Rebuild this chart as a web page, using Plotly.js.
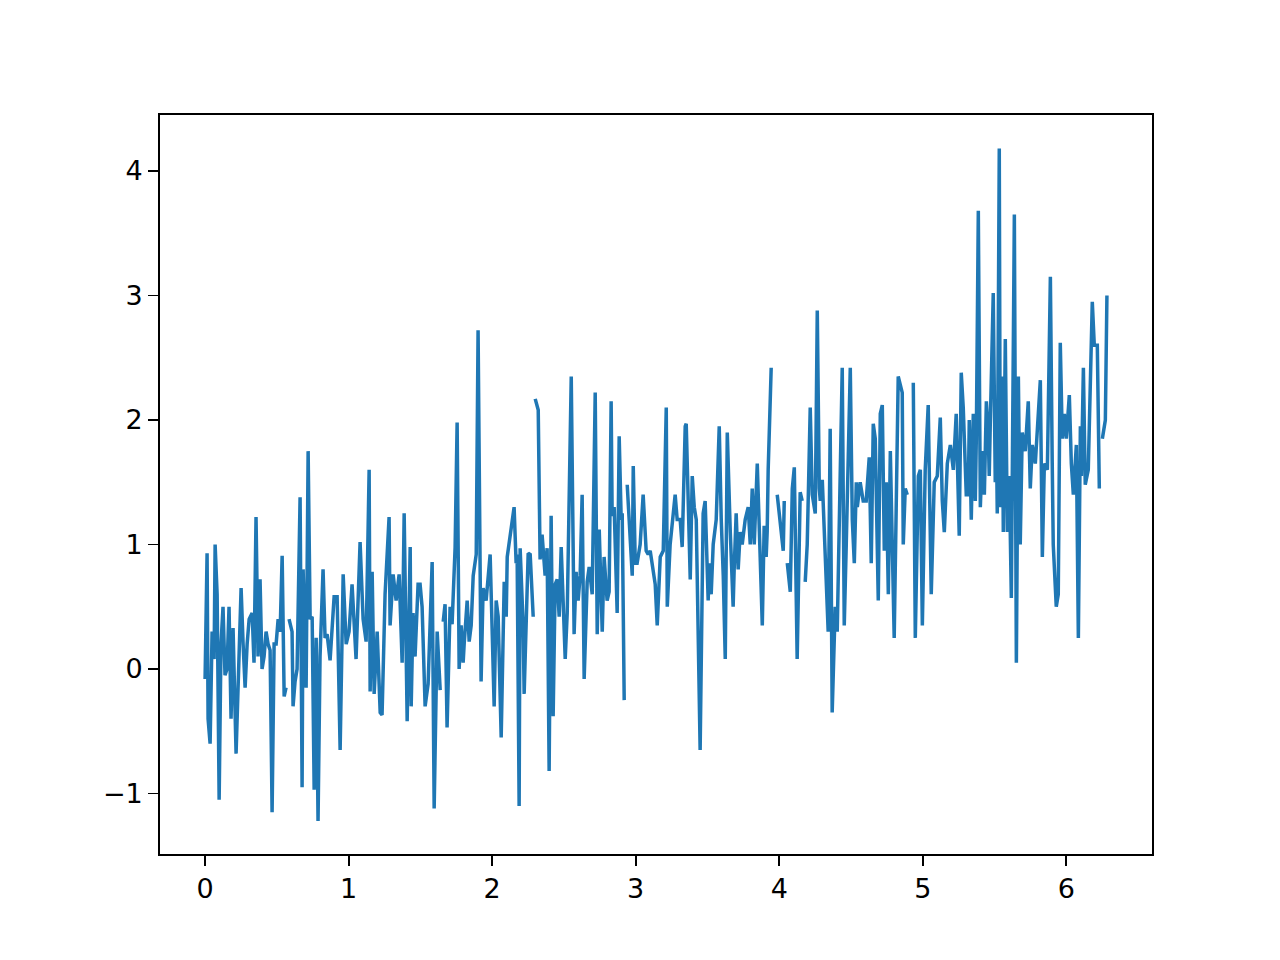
<!DOCTYPE html>
<html>
<head>
<meta charset="utf-8">
<script src="https://cdn.plot.ly/plotly-3.0.1.min.js"></script>
<style>html,body{margin:0;padding:0;background:#fff;}#chart{width:1280px;height:960px;}</style>
</head>
<body>
<div id="chart"></div>
<script>
// x positions (data units) and y values; null = gap in the line
const xValues = [
  0.000,0.014,0.021,0.035,0.049,0.063,0.070,0.084,0.098,0.111,0.125,0.139,0.153,0.167,0.181,0.195,0.216,0.230,0.251,0.265,
  0.279,0.293,0.307,0.328,0.341,0.355,0.369,0.383,0.397,0.411,0.425,0.439,0.453,0.467,0.481,0.495,0.509,0.523,0.537,0.551,
  0.564,0.575,0.585,0.606,0.613,0.627,0.641,0.662,0.676,0.683,0.704,0.718,0.732,0.746,0.760,0.774,0.787,0.801,0.822,0.836,
  0.850,0.871,0.899,0.920,0.941,0.962,0.983,1.003,1.024,1.052,1.080,1.101,1.122,1.143,1.150,1.164,1.178,1.199,1.220,1.233,
  1.254,1.282,1.289,1.310,1.331,1.352,1.373,1.387,1.408,1.429,1.436,1.449,1.463,1.484,1.498,1.512,1.533,1.554,1.582,1.596,
  1.617,1.638,1.645,1.659,1.672,1.686,1.707,1.721,1.742,1.756,1.770,1.784,1.798,1.805,1.826,1.840,1.854,1.868,1.889,1.902,
  1.923,1.937,1.958,1.986,2.014,2.028,2.042,2.063,2.084,2.098,2.105,2.153,2.167,2.174,2.188,2.195,2.216,2.223,2.251,2.265,
  2.286,2.290,2.300,2.321,2.334,2.348,2.369,2.383,2.397,2.411,2.425,2.439,2.453,2.467,2.481,2.509,2.523,2.537,2.551,2.571,
  2.585,2.599,2.613,2.627,2.641,2.662,2.676,2.697,2.718,2.732,2.746,2.767,2.780,2.801,2.815,2.829,2.836,2.850,2.871,2.885,
  2.899,2.906,2.920,2.930,2.941,2.962,2.976,2.983,2.997,3.010,3.031,3.052,3.073,3.087,3.101,3.136,3.150,3.171,3.192,3.213,
  3.220,3.240,3.261,3.275,3.289,3.310,3.324,3.345,3.352,3.373,3.380,3.394,3.408,3.422,3.449,3.470,3.484,3.505,3.512,3.526,
  3.540,3.561,3.582,3.596,3.610,3.624,3.638,3.659,3.679,3.686,3.700,3.714,3.728,3.742,3.763,3.784,3.798,3.812,3.826,3.847,
  3.882,3.895,3.909,3.916,3.923,3.944,3.960,3.986,4.007,4.028,4.035,4.045,4.056,4.077,4.091,4.105,4.125,4.146,4.160,4.170,
  4.181,4.195,4.216,4.230,4.251,4.265,4.279,4.286,4.300,4.328,4.341,4.355,4.369,4.390,4.404,4.439,4.453,4.467,4.495,4.509,
  4.523,4.537,4.544,4.564,4.585,4.606,4.627,4.641,4.655,4.669,4.690,4.704,4.718,4.732,4.746,4.760,4.774,4.801,4.829,4.857,
  4.864,4.878,4.892,4.900,4.934,4.948,4.969,4.983,4.997,5.017,5.038,5.059,5.080,5.101,5.122,5.136,5.150,5.171,5.192,5.213,
  5.233,5.254,5.268,5.282,5.303,5.317,5.324,5.338,5.352,5.366,5.373,5.387,5.401,5.415,5.429,5.443,5.456,5.463,5.470,5.491,
  5.505,5.512,5.519,5.533,5.540,5.554,5.561,5.575,5.589,5.603,5.617,5.638,5.652,5.666,5.679,5.693,5.714,5.735,5.749,5.763,
  5.784,5.819,5.833,5.847,5.868,5.889,5.902,5.909,5.930,5.944,5.958,5.972,5.986,6.000,6.021,6.035,6.049,6.070,6.084,6.098,
  6.105,6.119,6.132,6.153,6.181,6.195,6.216,6.230,6.240,6.251,6.272,6.283
];
const yValues = [
  -0.08,0.93,-0.40,-0.60,0.30,0.08,1.00,0.60,-1.05,0.20,0.50,-0.05,0.00,0.50,-0.40,0.33,-0.68,-0.10,0.65,0.20,
  -0.15,0.20,0.40,0.45,0.05,1.22,0.10,0.72,0.00,0.10,0.30,0.20,0.15,-1.15,0.20,0.20,0.40,0.30,0.91,-0.22,
  -0.15,null,0.40,0.30,-0.30,-0.10,0.00,1.38,-0.95,0.80,-0.15,1.75,0.40,0.42,-0.97,0.25,-1.22,0.10,0.80,0.25,
  0.28,0.07,0.58,0.58,-0.65,0.76,0.20,0.30,0.68,0.08,1.02,0.40,0.22,1.60,-0.18,0.78,-0.20,0.30,-0.35,-0.37,
  0.60,1.22,0.35,0.76,0.55,0.76,0.05,1.25,-0.42,0.98,-0.30,0.45,0.10,0.68,0.68,0.50,-0.30,-0.12,0.86,-1.12,
  0.30,-0.17,null,0.38,0.52,-0.47,0.50,0.36,0.98,1.98,0.00,0.35,0.05,0.20,0.55,0.22,0.35,0.75,0.92,2.72,
  -0.10,0.65,0.55,0.92,-0.30,0.55,0.42,-0.55,0.70,0.42,0.90,1.30,0.85,0.92,-1.10,0.97,0.35,-0.20,0.93,0.92,
  0.42,null,2.17,2.08,0.88,1.08,0.75,0.97,-0.82,1.23,-0.38,0.68,0.72,0.42,0.98,0.08,0.45,1.30,2.35,0.28,
  0.78,0.55,0.75,1.40,-0.08,0.70,0.82,0.60,2.22,0.28,1.12,0.30,0.90,0.55,0.62,2.15,1.23,1.30,0.45,1.87,
  1.20,1.25,-0.25,null,1.48,1.10,0.75,1.63,0.85,0.85,1.00,1.40,0.95,0.92,0.95,0.68,0.35,0.90,0.95,2.10,
  0.50,1.00,1.22,1.40,1.20,1.20,0.98,1.95,1.97,0.85,0.72,1.55,1.30,1.20,-0.65,1.25,1.35,0.55,0.85,0.60,
  1.00,1.20,1.95,1.20,0.75,0.08,1.90,1.10,0.50,0.80,1.25,0.80,1.10,1.00,1.20,1.30,1.00,1.45,1.00,1.65,
  0.35,1.15,0.90,1.10,1.60,2.42,null,1.40,1.20,0.95,1.35,null,0.85,0.62,1.45,1.62,0.08,1.42,1.35,null,
  0.70,1.00,2.10,1.40,1.25,2.88,1.45,1.35,1.52,0.55,0.30,1.93,-0.35,0.50,0.30,2.42,0.35,1.00,2.42,1.20,
  0.85,1.50,1.30,1.50,1.35,1.35,1.70,0.85,1.97,1.85,0.55,2.05,2.12,0.95,1.50,0.60,1.75,0.25,2.35,2.22,
  1.00,1.45,1.40,null,2.30,0.25,1.55,1.60,0.35,1.60,2.12,0.60,1.50,1.55,2.02,1.35,1.10,1.65,1.80,1.60,
  2.05,1.07,2.38,2.10,1.40,1.40,2.00,1.20,2.05,1.35,1.85,3.68,1.30,1.75,1.40,2.15,1.90,1.55,1.95,3.02,
  1.50,2.00,1.25,4.18,1.30,2.35,1.10,2.65,1.10,1.55,0.57,3.65,0.05,2.35,1.00,1.90,1.75,2.15,1.45,1.80,
  1.65,2.32,0.90,1.65,1.60,3.15,1.65,1.00,0.50,0.60,2.62,1.85,2.05,1.85,2.20,1.65,1.40,1.80,0.25,1.95,
  1.55,2.42,1.48,1.60,2.95,2.60,2.60,1.45,null,1.85,2.00,3.00
];
const xTickVals = [0, 1, 2, 3, 4, 5, 6];
const yTickVals = [-1, 0, 1, 2, 3, 4];
const yTickText = ['\u22121', '0', '1', '2', '3', '4'];

const trace = {
  x: xValues,
  y: yValues,
  type: 'scatter',
  mode: 'lines',
  connectgaps: false,
  line: {color: '#1f77b4', width: 3.5},
  hoverinfo: 'none'
};

const axisCommon = {
  showgrid: false,
  zeroline: false,
  showline: true,
  linecolor: '#000',
  linewidth: 1.8,
  mirror: true,
  ticks: 'outside',
  ticklen: 10,
  tickwidth: 1.8,
  tickcolor: '#000',
  tickfont: {family: 'DejaVu Sans', size: 27, color: '#000'}
};

const layout = {
  width: 1280,
  height: 960,
  paper_bgcolor: '#fff',
  plot_bgcolor: '#fff',
  showlegend: false,
  margin: {l: 160, r: 128, t: 115, b: 106, pad: 0},
  xaxis: Object.assign({}, axisCommon, {
    range: [-0.314, 6.597],
    tickmode: 'array',
    tickvals: xTickVals,
    ticktext: xTickVals.map(String)
  }),
  yaxis: Object.assign({}, axisCommon, {
    range: [-1.486, 4.45],
    tickmode: 'array',
    tickvals: yTickVals,
    ticktext: yTickText
  })
};

Plotly.newPlot('chart', [trace], layout, {displayModeBar: false, staticPlot: true});
</script>
</body>
</html>
